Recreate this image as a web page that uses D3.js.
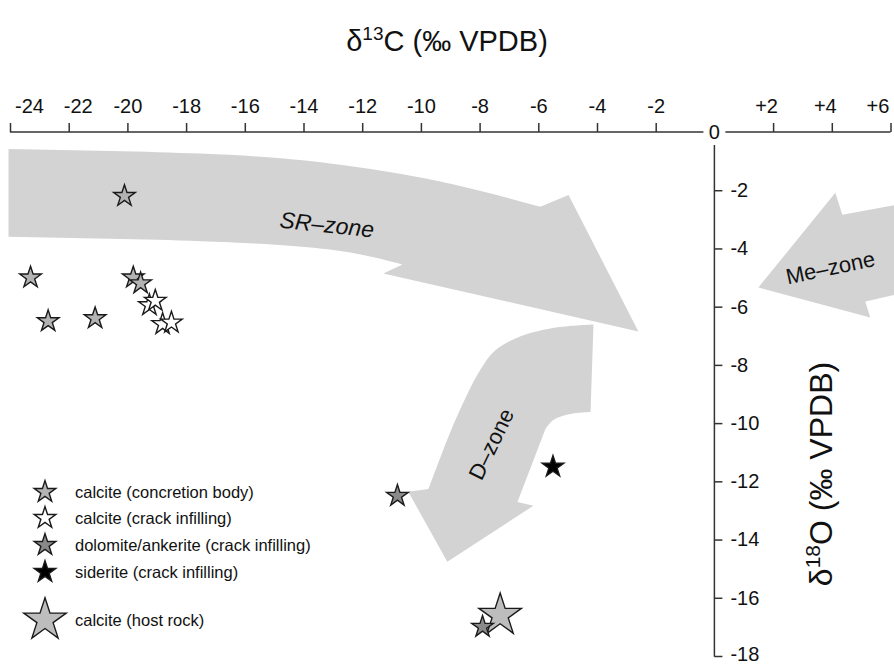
<!DOCTYPE html>
<html><head><meta charset="utf-8">
<script src="https://cdn.jsdelivr.net/npm/d3@7"></script>
<style>
html,body{margin:0;padding:0;background:#fff;}
svg{display:block;font-family:"Liberation Sans",Arial,Helvetica,sans-serif;}
</style></head>
<body>
<svg id="chart" width="894" height="665"></svg>
<script>
// ---------- data ----------
const xTicks = [-24,-22,-20,-18,-16,-14,-12,-10,-8,-6,-4,-2,2,4,6];
const yTicks = [-2,-4,-6,-8,-10,-12,-14,-16,-18];

const concretionC = [-20.1, -23.3, -22.7, -21.1, -19.8, -19.55];
const concretionO = [-2.2, -5.0, -6.5, -6.4, -5.0, -5.2];
const crackC = [-19.25, -19.05, -18.8, -18.5];
const crackO = [-5.95, -5.8, -6.6, -6.55];
const dolomiteC = [-10.8, -7.9];
const dolomiteO = [-12.5, -17.0];
const sideriteC = [-5.5];
const sideriteO = [-11.5];
const hostC = [-7.3];
const hostO = [-16.6];

const legendLabels = ["calcite (concretion body)","calcite (crack infilling)","dolomite/ankerite (crack infilling)","siderite (crack infilling)","calcite (host rock)"];

// zone arrows (δ13C, δ18O)
const srTop = [[-24.05,-0.58],[-17.5,-0.74],[-13.1,-1.08],[-9.34,-1.7],[-5.93,-2.57]];
const srHead = [[-5.93,-2.57],[-4.97,-2.16],[-2.59,-6.85],[-11.28,-4.86],[-10.63,-4.55]];
const srBottom = [[-10.63,-4.55],[-13.1,-4.04],[-17.5,-3.75],[-24.05,-3.6]];
const dRight = [[-4.12,-6.61],[-4.22,-9.62]];
const dInner = [[-4.22,-9.62],[-4.91,-9.69],[-5.5,-9.9],[-5.76,-10.21]];
const dHead = [[-5.76,-10.21],[-6.71,-12.71],[-6.17,-12.84],[-9.1,-14.76],[-10.43,-12.36],[-9.74,-12.26]];
const dLeft = [[-9.74,-12.26],[-9.0,-10.31],[-8.42,-9.01],[-8.05,-8.3],[-7.5,-7.53],[-6.6,-7.02],[-5.35,-6.71],[-4.12,-6.61]];
const meShape = [[1.5,-5.34],[4.12,-2.09],[4.36,-2.84],[6.2,-2.5],[6.2,-5.58],[5.14,-5.82],[5.31,-6.37]];

const zoneLabels = ["SR–zone","D–zone","Me–zone"];
const zoneLabelC = [-13.2,-7.6,3.95];
const zoneLabelO = [-3.18,-10.72,-4.66];

// ---------- drawing ----------
const svg = d3.select("#chart");
const x = d3.scaleLinear().domain([-24,6]).range([10,890.5]);
const y = d3.scaleLinear().domain([0,-18]).range([132,656]);
const axisColor = "#333";
const fmt = v => v>0 ? "+"+v : (v<0 ? "-"+Math.abs(v) : "0");

function pathFrom(parts){
  let d = "";
  parts.forEach((p,i)=>{
    const s = d3.line().x(v=>x(v[0])).y(v=>y(v[1])).curve(p.curve)(p.pts);
    d += i===0 ? s : "L" + s.slice(1);
  });
  return d + "Z";
}
const arrowFill = "#d3d3d3";
svg.append("path").attr("fill",arrowFill).attr("d",pathFrom([
  {pts:srTop,curve:d3.curveNatural},{pts:srHead,curve:d3.curveLinear},{pts:srBottom,curve:d3.curveNatural}]));
svg.append("path").attr("fill",arrowFill).attr("d",pathFrom([
  {pts:dRight,curve:d3.curveLinear},{pts:dInner,curve:d3.curveCatmullRom},{pts:dHead,curve:d3.curveLinear},{pts:dLeft,curve:d3.curveCatmullRom}]));
svg.append("path").attr("fill",arrowFill).attr("d",pathFrom([{pts:meShape,curve:d3.curveLinear}]));

// zone labels
const zoneRot = [6,-64,-12];
const zoneStyle = ["italic","normal","normal"];
const zoneSize = [23,22,22];
zoneLabels.forEach((t,i)=>{
  svg.append("text")
    .attr("transform",`translate(${x(zoneLabelC[i])},${y(zoneLabelO[i])}) rotate(${zoneRot[i]})`)
    .attr("text-anchor","middle").attr("dominant-baseline","central")
    .attr("font-size",zoneSize[i]).attr("font-style",zoneStyle[i]).attr("fill","#111").text(t);
});

// top axis
const gx = svg.append("g").attr("transform",`translate(0,${y(0)})`)
  .call(d3.axisTop(x).tickValues(xTicks).tickSize(9).tickPadding(10).tickFormat(fmt));
gx.select(".domain").remove();
gx.selectAll(".tick line").attr("stroke",axisColor).attr("stroke-width",1.5);
gx.selectAll(".tick text").attr("font-size",20).attr("fill","#111")
  .attr("font-family","'Liberation Sans',Arial,sans-serif")
  .attr("dx",v=> v===-24 ? 19 : v===-22 ? 9 : v===6 ? -13 : v>0 ? -7 : 0);
// domain lines with gap for "0"
svg.append("line").attr("x1",x(-24)).attr("x2",x(0)-11).attr("y1",y(0)).attr("y2",y(0)).attr("stroke",axisColor).attr("stroke-width",1.5);
svg.append("line").attr("x1",x(0)+11).attr("x2",x(6)).attr("y1",y(0)).attr("y2",y(0)).attr("stroke",axisColor).attr("stroke-width",1.5);
svg.append("text").attr("x",x(0)).attr("y",y(0)).attr("text-anchor","middle").attr("dominant-baseline","central")
  .attr("font-size",20).attr("fill","#111").text(fmt(0));

// right (vertical) axis at δ13C = 0
const gy = svg.append("g").attr("transform",`translate(${x(0)},0)`)
  .call(d3.axisRight(y).tickValues(yTicks).tickSize(8).tickPadding(8).tickFormat(fmt));
gy.select(".domain").remove();
gy.selectAll(".tick line").attr("stroke",axisColor).attr("stroke-width",1.5);
gy.selectAll(".tick text").attr("font-size",20).attr("fill","#111")
  .attr("font-family","'Liberation Sans',Arial,sans-serif")
  .attr("dy",v=> v===-18 ? "0.22em" : "0.32em");
svg.append("line").attr("x1",x(0)).attr("x2",x(0)).attr("y1",y(0)+13).attr("y2",y(-18)+0.75).attr("stroke",axisColor).attr("stroke-width",1.5);

// titles
const tTop = svg.append("text").attr("x",447).attr("y",51).attr("text-anchor","middle").attr("font-size",29).attr("fill","#111");
tTop.append("tspan").text("δ");
tTop.append("tspan").attr("font-size",19).attr("dy",-11).text("13");
tTop.append("tspan").attr("dy",11).text("C (‰ VPDB)");

const tRight = svg.append("text").attr("transform","translate(832,474) rotate(-90)").attr("text-anchor","middle").attr("font-size",32).attr("fill","#111");
tRight.append("tspan").text("δ");
tRight.append("tspan").attr("font-size",21).attr("dy",-12).text("18");
tRight.append("tspan").attr("dy",12).text("O (‰ VPDB)");

// points
const star = d3.symbol().type(d3.symbolStar);
const smallSize = 145, bigSize = 560;
const strokeC = "#1a1a1a";
const series = [
  {c:hostC,o:hostO,fill:"#bdbdbd",size:bigSize},
  {c:concretionC,o:concretionO,fill:"#b3b3b3",size:smallSize},
  {c:crackC,o:crackO,fill:"#ffffff",size:smallSize},
  {c:dolomiteC,o:dolomiteO,fill:"#8a8a8a",size:smallSize},
  {c:sideriteC,o:sideriteO,fill:"#000000",size:smallSize}
];
series.forEach(s=>{
  svg.append("g").selectAll("path").data(s.c.map((c,i)=>[c,s.o[i]])).join("path")
    .attr("d",star.size(s.size)())
    .attr("transform",d=>`translate(${x(d[0])},${y(d[1])})`)
    .attr("fill",s.fill).attr("stroke",strokeC).attr("stroke-width",1.4).attr("stroke-linejoin","miter");
});

// legend
const legFill = ["#b3b3b3","#ffffff","#8a8a8a","#000000","#bdbdbd"];
const legSize = [smallSize,smallSize,smallSize,smallSize,bigSize];
const legY = [492,518,545,572,620];
const leg = svg.append("g");
legendLabels.forEach((t,i)=>{
  leg.append("path").attr("d",star.size(legSize[i])()).attr("transform",`translate(45,${legY[i]})`)
    .attr("fill",legFill[i]).attr("stroke",strokeC).attr("stroke-width",1.4);
  leg.append("text").attr("x",75).attr("y",legY[i]).attr("dominant-baseline","central")
    .attr("font-size",16.5).attr("fill","#111").text(t);
});
</script>
</body></html>
